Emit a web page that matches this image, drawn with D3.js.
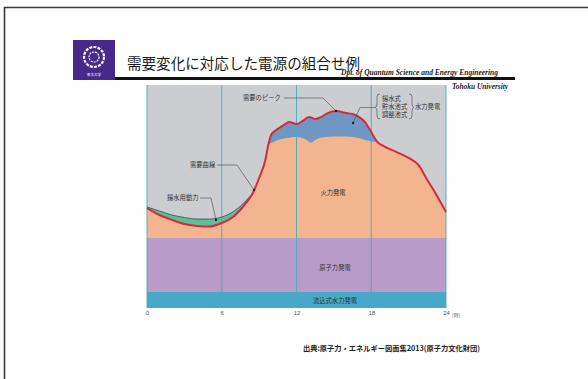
<!DOCTYPE html>
<html><head><meta charset="utf-8">
<script src="https://cdn.jsdelivr.net/npm/d3@7/dist/d3.min.js"></script>
<style>
html,body{margin:0;padding:0;background:#fff;}
svg{display:block;}
text{font-family:"Noto Sans CJK JP","Noto Sans",sans-serif;}
</style></head>
<body>
<script>
// ---- data ----
const hourTicks = [0, 6, 12, 18, 24];
const demandHours = [0,1,2,3,4,5,6,7,8,8.5,9,9.5,9.75,10,10.5,11,11.4,12,12.5,13,13.5,14,14.5,15.2,16,16.5,17,17.5,18,18.5,19,20,21,21.8,22.5,23,24];
const demandValues = [44.8,41.7,39.5,37.7,36.8,36.5,38.1,41.3,47.5,51.6,58.3,66.4,73.5,78.0,80.3,82.1,83.4,82.5,83.9,85.7,84.8,85.7,87.4,88.3,87.4,87.0,85.7,83.4,78.9,74.4,72.6,70.0,67.3,64.1,57.4,52.9,43.0];
const pumpingHours = [0,1,2,3,4,5,6,7,8,8.5];
const pumpingTopValues = [45.3,43.5,41.7,40.6,39.9,39.9,40.8,43.5,48.4,51.6];
const thermalHours = [9.75,10,10.5,11,12,12.5,13.2,13.5,14,15,16,17,17.5,18,18.5];
const thermalTopValues = [73.5,74.0,75.3,76.0,76.7,76.2,74.2,75.3,76.5,76.9,76.9,76.2,75.3,74.7,74.4];
const nuclearTop = 31.4;
const runOfRiverTop = 7.2;
const yMax = 100;

// ---- layout ----
const W = 588, H = 379;
const svg = d3.select("body").append("svg").attr("width", W).attr("height", H);

// frame
svg.append("path").attr("d", `M4.5,${H} V7.5 H${W}`).attr("fill","none").attr("stroke","#3a3a3a").attr("stroke-width",1.6);

// logo
const logo = svg.append("g");
logo.append("rect").attr("x",73).attr("y",40).attr("width",42).attr("height",40).attr("fill","#46298a");
logo.append("circle").attr("cx",94).attr("cy",57).attr("r",10).attr("fill","none").attr("stroke","#fff").attr("stroke-width",2.2).attr("stroke-dasharray","3 1.2");
logo.append("circle").attr("cx",94).attr("cy",57).attr("r",5).attr("fill","none").attr("stroke","#fff").attr("stroke-width",1.2).attr("stroke-dasharray","2 1");
logo.append("text").attr("x",94).attr("y",75.5).attr("text-anchor","middle").attr("font-size",3.6).attr("fill","#fff").text("東北大学");

// title
svg.append("text").attr("x",127).attr("y",69).attr("font-size",14.4)
  .attr("textLength",233).attr("lengthAdjust","spacingAndGlyphs")
  .attr("fill","#1a1a1a").text("需要変化に対応した電源の組合せ例");
svg.append("rect").attr("x",115).attr("y",77).attr("width",400).attr("height",3).attr("fill","#111");
svg.append("text").attr("x",341).attr("y",74.5).attr("font-size",7.8).attr("font-weight","bold").attr("font-style","italic")
  .attr("textLength",157).attr("lengthAdjust","spacingAndGlyphs")
  .style("font-family","'Liberation Serif','DejaVu Serif',serif").attr("fill","#222").text("Dpt. of Quantum Science and Energy Engineering");
svg.append("text").attr("x",452).attr("y",88.5).attr("font-size",7.8).attr("font-weight","bold").attr("font-style","italic")
  .attr("textLength",56).attr("lengthAdjust","spacingAndGlyphs")
  .style("font-family","'Liberation Serif','DejaVu Serif',serif").attr("fill","#222").text("Tohoku University");

// scales
const x = d3.scaleLinear().domain([0,24]).range([147,446]);
const y = d3.scaleLinear().domain([0,yMax]).range([308,85]);

const g = svg.append("g");
// background
g.append("rect").attr("x",x(0)).attr("y",y(yMax)).attr("width",x(24)-x(0)).attr("height",y(0)-y(yMax)).attr("fill","#cbcdd1");

const demand = demandHours.map((h,i)=>({h, v:demandValues[i]}));
const pumping = pumpingHours.map((h,i)=>({h, v:pumpingTopValues[i]}));
const thermal = thermalHours.map((h,i)=>({h, v:thermalTopValues[i]}));
const thermalComposite = demand.filter(d=>d.h<9.75).concat(thermal).concat(demand.filter(d=>d.h>18.5));

const curve = d3.curveMonotoneX;
const area = d3.area().x(d=>x(d.h)).y0(y(nuclearTop)).y1(d=>y(d.v)).curve(curve);
const line = d3.line().x(d=>x(d.h)).y(d=>y(d.v)).curve(curve);

// green pumping
g.append("path").datum(pumping).attr("d",area).attr("fill","#5bbf98");
// blue storage hydro
g.append("path").datum(demand).attr("d",area).attr("fill","#7097c2");
// orange thermal
g.append("path").datum(thermalComposite).attr("d",area).attr("fill","#f3b590");
// nuclear
g.append("rect").attr("x",x(0)).attr("y",y(nuclearTop)).attr("width",x(24)-x(0)).attr("height",y(runOfRiverTop)-y(nuclearTop)).attr("fill","#b89bc8");
// run-of-river
g.append("rect").attr("x",x(0)).attr("y",y(runOfRiverTop)).attr("width",x(24)-x(0)).attr("height",y(0)-y(runOfRiverTop)).attr("fill","#47a8c8");

// grid lines
hourTicks.forEach(h=>{
  g.append("line").attr("x1",x(h)).attr("x2",x(h)).attr("y1",y(yMax)).attr("y2",y(0)).attr("stroke","#45adc0").attr("stroke-width",0.9);
});

// pumping top line & demand line
g.append("path").datum(pumping).attr("d",line).attr("fill","none").attr("stroke","#2e3a36").attr("stroke-width",0.7);
g.append("path").datum(demand).attr("d",line).attr("fill","none").attr("stroke","#d42a3c").attr("stroke-width",2);

// axis
const axis = d3.axisBottom(x).tickValues(hourTicks).tickSize(0).tickPadding(3).tickFormat(d3.format("d"));
const ax = svg.append("g").attr("transform",`translate(0,${y(0)})`).call(axis);
ax.select(".domain").remove();
ax.selectAll("text").attr("font-size",6).attr("fill","#555").style("font-family","'Liberation Sans',Arial,sans-serif");
svg.append("text").attr("x",452).attr("y",316.5).attr("font-size",5).attr("fill","#555").text("(時)");

// annotations
const ann = svg.append("g").attr("font-size",6.3).attr("fill","#333");
function leader(points){
  svg.append("path").attr("d", d3.line()(points)).attr("fill","none").attr("stroke","#444").attr("stroke-width",0.6);
  const p = points[points.length-1];
  svg.append("circle").attr("cx",p[0]).attr("cy",p[1]).attr("r",1.2).attr("fill","#222");
}
ann.append("text").attr("x",243).attr("y",100).text("需要のピーク");
leader([[284,98],[323,98],[336,111]]);
ann.append("text").attr("x",190).attr("y",167).text("需要曲線");
leader([[217,165],[237,165],[254,190]]);
ann.append("text").attr("x",167).attr("y",200).text("揚水用動力");
leader([[200,198],[211,198],[216,220]]);
ann.append("text").attr("x",382).attr("y",101).text("揚水式");
ann.append("text").attr("x",382).attr("y",109).text("貯水池式");
ann.append("text").attr("x",382).attr("y",117).text("調整池式");
ann.append("text").attr("x",415).attr("y",109).text("水力発電");
svg.append("path").attr("d","M380,94 Q377,94 377,97 V104 Q377,107 375,107.5 Q377,108 377,111 V116 Q377,119 380,119")
  .attr("fill","none").attr("stroke","#444").attr("stroke-width",0.6);
svg.append("path").attr("d","M409,94 Q412,94 412,97 V104 Q412,107 414,107.5 Q412,108 412,111 V116 Q412,119 409,119")
  .attr("fill","none").attr("stroke","#444").attr("stroke-width",0.6);
leader([[375,107.5],[360,107.5],[353,123]]);
ann.append("text").attr("x",333).attr("y",195).attr("text-anchor","middle").text("火力発電");
ann.append("text").attr("x",335).attr("y",270).attr("text-anchor","middle").text("原子力発電");
ann.append("text").attr("x",335).attr("y",303).attr("text-anchor","middle").text("流込式水力発電");

// source
svg.append("text").attr("x",303).attr("y",351).attr("font-size",7.4).attr("font-weight","bold").attr("fill","#222")
  .attr("textLength",177).attr("lengthAdjust","spacingAndGlyphs")
  .text("出典:原子力・エネルギー図面集2013(原子力文化財団)");
</script>
</body></html>
